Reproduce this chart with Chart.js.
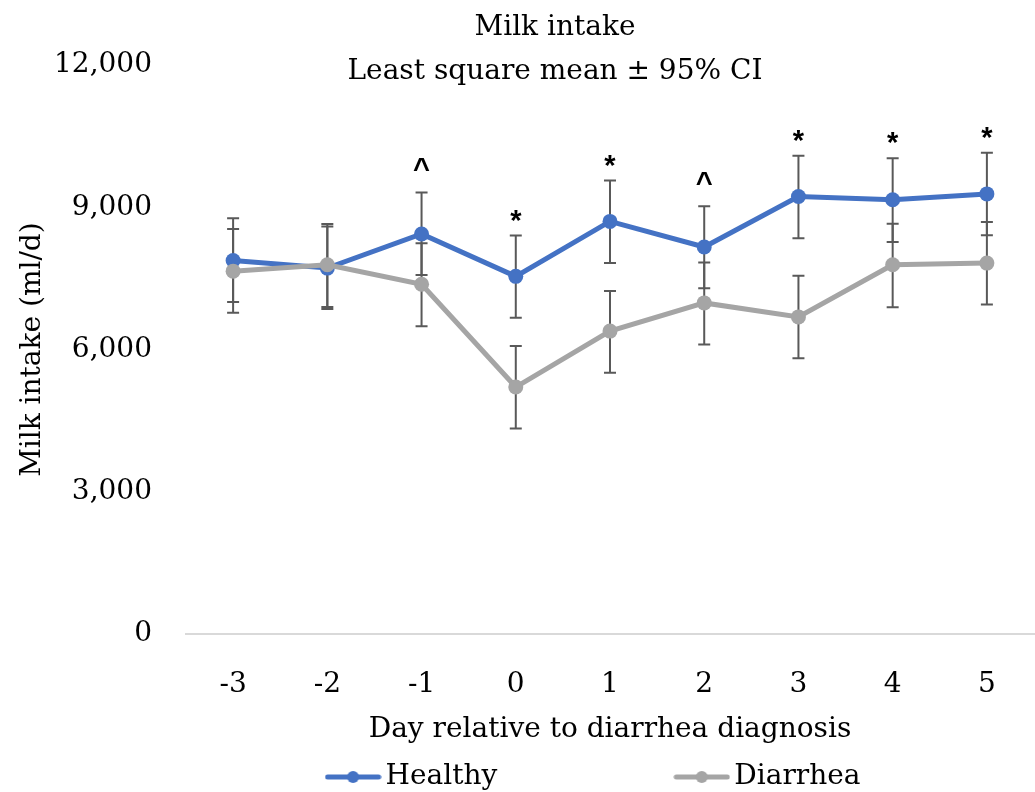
<!DOCTYPE html>
<html>
<head>
<meta charset="utf-8">
<script src="https://cdn.jsdelivr.net/npm/chart.js@4"></script>
<style>
  html, body { margin: 0; padding: 0; background: #fff; }
  #wrap { width: 1035px; height: 792px; }
</style>
</head>
<body>
<div id="wrap"><canvas id="chart"></canvas></div>
<script>
// values (ml/d)
const days = ["-3", "-2", "-1", "0", "1", "2", "3", "4", "5"];
const healthyMean = [7880, 7720, 8440, 7545, 8705, 8165, 9230, 9160, 9285];
const healthyLow = [7005, 6855, 7575, 6670, 7825, 7295, 8350, 8270, 8410];
const healthyHigh = [8770, 8595, 9315, 8405, 9565, 9025, 10090, 10035, 10155];
const diarrheaMean = [7655, 7790, 7380, 5210, 6390, 6985, 6690, 7790, 7825];
const diarrheaLow = [6780, 6900, 6495, 4335, 5510, 6105, 5815, 6895, 6950];
const diarrheaHigh = [8545, 8650, 8245, 6075, 7235, 7840, 7560, 8655, 8690];
const significance = ["", "", "^", "*", "*", "^", "*", "*", "*"];

const BLUE = "#4472C4";
const GREY = "#A5A5A5";
const FONT = "'DejaVu Serif', serif";

function legendSymbol(color) {
  const c = document.createElement("canvas");
  c.width = 57;
  c.height = 14;
  const g = c.getContext("2d");
  g.strokeStyle = color;
  g.lineWidth = 5;
  g.lineCap = "round";
  g.beginPath();
  g.moveTo(3, 7);
  g.lineTo(54, 7);
  g.stroke();
  g.fillStyle = color;
  g.beginPath();
  g.arc(28.5, 7, 6, 0, Math.PI * 2);
  g.fill();
  return c;
}

const errorBars = {
  id: "errorBars",
  beforeDatasetsDraw(chart) {
    const { ctx, scales: { x, y } } = chart;
    ctx.save();
    ctx.strokeStyle = "#595959";
    ctx.lineWidth = 2;
    [[healthyLow, healthyHigh], [diarrheaLow, diarrheaHigh]].forEach(([lo, hi]) => {
      days.forEach((d, i) => {
        const px = x.getPixelForValue(i);
        const top = y.getPixelForValue(hi[i]);
        const bot = y.getPixelForValue(lo[i]);
        ctx.beginPath();
        ctx.moveTo(px, top);
        ctx.lineTo(px, bot);
        ctx.moveTo(px - 6, top);
        ctx.lineTo(px + 6, top);
        ctx.moveTo(px - 6, bot);
        ctx.lineTo(px + 6, bot);
        ctx.stroke();
      });
    });
    ctx.restore();
  }
};

const sigMarks = {
  id: "sigMarks",
  afterDatasetsDraw(chart) {
    const { ctx, scales: { x, y } } = chart;
    ctx.save();
    ctx.fillStyle = "#000";
    ctx.font = "bold 29px 'Liberation Sans', Arial, sans-serif";
    ctx.textAlign = "center";
    ctx.textBaseline = "alphabetic";
    significance.forEach((mark, i) => {
      if (!mark) return;
      const top = Math.min(y.getPixelForValue(healthyHigh[i]), y.getPixelForValue(diarrheaHigh[i]));
      ctx.fillText(mark, x.getPixelForValue(i), top - (mark === "^" ? 14 : 6));
    });
    ctx.restore();
  }
};

// Excel placed the titles and legend off-centre: nudge those boxes
const boxPlace = {
  id: "boxPlace",
  afterLayout(chart) {
    chart.boxes.forEach(b => {
      if (b.position === "top") {
        b.left += 38;
        b.right += 38;
      }
    });
    const lg = chart.legend;
    const pad = lg.options.labels.padding;
    lg.left = 80;
    lg.right = chart.width + 80;
    lg.top = chart.height - 29 - pad;
  }
};

new Chart(document.getElementById("chart"), {
  type: "line",
  data: {
    labels: days,
    datasets: [
      {
        label: "Healthy",
        data: healthyMean,
        borderColor: BLUE,
        backgroundColor: BLUE,
        borderWidth: 5,
        pointRadius: 7.5,
        pointBackgroundColor: BLUE,
        pointBorderWidth: 0,
        tension: 0,
        order: 1
      },
      {
        label: "Diarrhea",
        data: diarrheaMean,
        borderColor: GREY,
        backgroundColor: GREY,
        borderWidth: 5,
        pointRadius: 7.5,
        pointBackgroundColor: GREY,
        pointBorderWidth: 0,
        tension: 0,
        order: 0
      }
    ]
  },
  plugins: [errorBars, sigMarks, boxPlace],
  options: {
    responsive: true,
    maintainAspectRatio: false,
    animation: false,
    layout: { autoPadding: false, padding: { left: 0, right: 1, top: 0, bottom: 0 } },
    plugins: {
      tooltip: { enabled: false },
      title: {
        display: true,
        text: "Milk intake",
        color: "#000",
        font: { family: FONT, size: 28, weight: "normal" },
        padding: { top: 11, bottom: 0 }
      },
      subtitle: {
        display: true,
        text: "Least square mean ± 95% CI",
        color: "#000",
        font: { family: FONT, size: 28, weight: "normal" },
        padding: { top: 10, bottom: -23 }
      },
      legend: {
        display: true,
        position: "bottom",
        maxHeight: 44,
        labels: {
          color: "#000",
          font: { family: FONT, size: 28 },
          usePointStyle: true,
          pointStyleWidth: 37,
          padding: 186,
          sort: (a, b) => a.datasetIndex - b.datasetIndex,
          generateLabels(chart) {
            const items = Chart.defaults.plugins.legend.labels.generateLabels(chart);
            items.forEach(it => {
              it.pointStyle = legendSymbol(chart.data.datasets[it.datasetIndex].borderColor);
            });
            return items;
          }
        }
      }
    },
    scales: {
      x: {
        offset: true,
        grid: { display: false, drawTicks: false },
        border: { display: true, color: "#D9D9D9", width: 2 },
        ticks: {
          color: "#000",
          font: { family: FONT, size: 28 },
          padding: 34,
          maxRotation: 0
        },
        title: {
          display: true,
          text: "Day relative to diarrhea diagnosis",
          color: "#000",
          font: { family: FONT, size: 28 },
          padding: { top: 0, bottom: 1 }
        },
        afterFit(scale) {
          scale.height = 114;
          scale.paddingLeft = 0;
          scale.paddingRight = 0;
        }
      },
      y: {
        min: 0,
        max: 12000,
        grid: { display: false, drawTicks: false },
        border: { display: false },
        ticks: {
          stepSize: 3000,
          color: "#000",
          font: { family: FONT, size: 28 },
          padding: 34,
          callback: v => v.toLocaleString("en-US")
        },
        title: {
          display: true,
          text: "Milk intake (ml/d)",
          color: "#000",
          font: { family: FONT, size: 28 },
          padding: { top: 16, bottom: 0 }
        },
        afterFit(scale) { scale.width = 186; }
      }
    }
  }
});
</script>
</body>
</html>
